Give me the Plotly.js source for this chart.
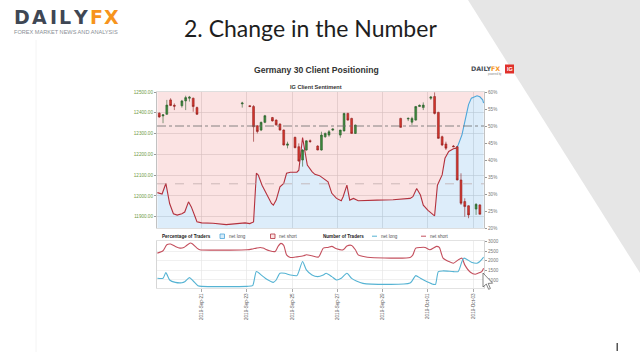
<!DOCTYPE html>
<html><head><meta charset="utf-8">
<script src="https://cdn.plot.ly/plotly-3.0.1.min.js"></script>
<style>html,body{margin:0;padding:0;background:#fff;}#chart{width:640px;height:360px;}</style>
</head><body><div id="chart"></div>
<script>
// ---- Candles (Germany 30, 4h) ----
const candleTime = ['2019-09-19 03:00','2019-09-19 07:00','2019-09-19 11:00','2019-09-19 15:00','2019-09-19 19:00','2019-09-20 03:00','2019-09-20 07:00','2019-09-20 11:00','2019-09-20 15:00','2019-09-20 19:00',
'2019-09-22 19:00','2019-09-23 03:00','2019-09-23 07:00','2019-09-23 11:00','2019-09-23 15:00','2019-09-23 19:00','2019-09-24 03:00','2019-09-24 07:00','2019-09-24 11:00','2019-09-24 15:00','2019-09-24 19:00','2019-09-25 03:00','2019-09-25 07:00','2019-09-25 11:00','2019-09-25 15:00','2019-09-25 19:00','2019-09-26 03:00','2019-09-26 07:00','2019-09-26 11:00','2019-09-26 15:00','2019-09-26 19:00','2019-09-27 03:00','2019-09-27 07:00','2019-09-27 11:00','2019-09-27 15:00','2019-09-27 19:00',
'2019-09-29 19:00','2019-09-30 03:00','2019-09-30 07:00','2019-09-30 11:00','2019-09-30 15:00','2019-09-30 19:00','2019-10-01 03:00','2019-10-01 07:00','2019-10-01 11:00','2019-10-01 15:00','2019-10-01 19:00','2019-10-02 03:00','2019-10-02 07:00','2019-10-02 11:00','2019-10-02 15:00','2019-10-02 19:00','2019-10-03 03:00','2019-10-03 07:00'];
const candleOpen  = [12398,12385,12393,12462,12436,12434,12457,12470,12470,12425, 12443,12434,12430,12338,12317,12354,12377,12365,12346,12317,12244,12282,12237,12173,12221,12266,12240,12221,12285,12293,12317,12293,12313,12397,12373,12301, 12373,12370,12355,12365,12430,12425,12470,12478,12402,12285,12250,12240,12237,12077,11973,11953,11937,11957];
const candleHigh  = [12402,12393,12462,12470,12445,12462,12482,12481,12473,12430, 12453,12437,12437,12340,12358,12390,12380,12368,12349,12320,12261,12285,12253,12225,12268,12272,12244,12309,12305,12317,12325,12318,12400,12400,12376,12343, 12376,12378,12381,12433,12440,12450,12480,12498,12405,12290,12261,12245,12240,12109,11989,11955,11965,11960];
const candleLow   = [12376,12350,12390,12432,12413,12425,12413,12454,12405,12390, 12425,12428,12261,12301,12312,12350,12358,12338,12315,12243,12229,12230,12165,12141,12218,12255,12220,12218,12280,12285,12312,12280,12310,12362,12300,12298, 12328,12360,12342,12362,12428,12413,12462,12392,12275,12240,12221,12235,12075,11957,11900,11893,11909,11912];
const candleClose = [12380,12390,12437,12435,12432,12457,12473,12475,12430,12393, 12447,12430,12333,12310,12354,12386,12361,12342,12317,12245,12250,12232,12168,12221,12265,12262,12221,12293,12301,12309,12322,12317,12397,12365,12301,12341, 12330,12373,12373,12430,12436,12437,12476,12397,12277,12245,12230,12237,12077,11965,11949,11909,11960,11912];

// ---- IG client sentiment: % net long (red while bias short, blue at the end) ----
const sentTimeRed = ['2019-09-19 01:00','2019-09-19 06:00','2019-09-19 10:00','2019-09-19 14:00','2019-09-19 18:00','2019-09-19 22:00','2019-09-20 03:00','2019-09-20 06:00','2019-09-20 10:00','2019-09-20 13:00','2019-09-20 17:00','2019-09-20 19:00','2019-09-21 00:00','2019-09-21 12:00','2019-09-22 02:00','2019-09-22 22:00','2019-09-23 03:00','2019-09-23 07:00','2019-09-23 10:00','2019-09-23 12:00','2019-09-23 16:00','2019-09-23 21:00','2019-09-24 02:00','2019-09-24 04:00','2019-09-24 07:00','2019-09-24 11:00','2019-09-24 15:00','2019-09-24 18:00','2019-09-24 22:00','2019-09-25 05:00','2019-09-25 07:00','2019-09-25 11:00','2019-09-25 16:00','2019-09-25 21:00','2019-09-26 00:00','2019-09-26 05:00','2019-09-26 11:00','2019-09-26 14:00','2019-09-26 18:00','2019-09-26 23:00','2019-09-27 04:00','2019-09-27 06:00','2019-09-27 10:00','2019-09-27 13:00','2019-09-27 17:00','2019-09-27 22:00','2019-09-28 18:00','2019-09-29 11:00','2019-09-30 05:00','2019-09-30 08:00','2019-09-30 12:00','2019-09-30 16:00','2019-09-30 19:00','2019-10-01 00:00','2019-10-01 06:00','2019-10-01 07:00','2019-10-01 10:00','2019-10-01 13:00','2019-10-01 15:00','2019-10-01 18:00','2019-10-01 22:00','2019-10-02 03:00','2019-10-02 06:00'];
const sentPctRed = [30.4,30.0,33.1,27.2,24.2,23.8,24.2,24.7,27.7,26.2,23.3,21.8,21.5,21.4,21.0,21.5,21.3,21.8,36.1,35.6,32.6,29.7,27.2,26.7,28.2,32.1,33.1,36.1,36.4,36.4,37.0,46.6,38.5,36.6,35.8,35.4,34.1,33.6,30.2,28.7,28.0,29.2,32.6,28.2,28.7,28.0,28.2,28.3,28.7,29.2,31.6,29.7,26.7,25.2,23.8,23.6,32.6,34.6,35.6,40.5,42.5,43.3,43.5];
const sentTimeBlue = ['2019-10-02 06:00','2019-10-02 08:00','2019-10-02 12:00','2019-10-02 15:00','2019-10-02 19:00','2019-10-02 22:00','2019-10-03 04:00','2019-10-03 07:00','2019-10-03 10:00','2019-10-03 11:00'];
const sentPctBlue = [43.5,44.4,47.4,51.3,56.3,58.2,58.9,58.6,57.7,56.7];

// ---- Number of traders ----
const shortTime = ['2019-09-19 01:00','2019-09-19 07:00','2019-09-19 11:00','2019-09-19 15:00','2019-09-19 20:00','2019-09-20 01:00','2019-09-20 05:00','2019-09-20 08:00','2019-09-20 12:00','2019-09-20 14:00','2019-09-20 19:00','2019-09-20 22:00','2019-09-21 16:00','2019-09-22 06:00','2019-09-23 00:00','2019-09-23 05:00','2019-09-23 10:00','2019-09-23 14:00','2019-09-23 17:00','2019-09-24 00:00','2019-09-24 06:00','2019-09-24 09:00','2019-09-24 12:00','2019-09-24 15:00','2019-09-24 18:00','2019-09-24 22:00','2019-09-25 05:00','2019-09-25 12:00','2019-09-25 15:00','2019-09-25 21:00','2019-09-26 04:00','2019-09-26 09:00','2019-09-26 14:00','2019-09-26 18:00','2019-09-26 23:00','2019-09-27 06:00','2019-09-27 10:00','2019-09-27 15:00','2019-09-27 19:00','2019-09-27 22:00','2019-09-28 05:00','2019-09-28 11:00','2019-09-30 05:00','2019-09-30 08:00','2019-09-30 11:00','2019-09-30 16:00','2019-09-30 21:00','2019-10-01 02:00','2019-10-01 09:00','2019-10-01 12:00','2019-10-01 16:00','2019-10-01 22:00','2019-10-02 03:00','2019-10-02 08:00','2019-10-02 12:00','2019-10-02 15:00','2019-10-02 21:00','2019-10-03 02:00','2019-10-03 05:00','2019-10-03 09:00','2019-10-03 11:00'];
const shortCount = [2391,2513,2826,2861,2739,2652,2687,2791,2913,2878,2652,2565,2548,2548,2565,2600,2652,2687,2652,2513,2478,2739,2896,2791,2304,2165,2200,2252,2304,2252,2190,2652,2687,2739,2617,2565,2757,2791,2565,2304,2200,2165,2165,2304,2652,2687,2687,2565,2739,2687,2130,1957,1870,2043,2130,1783,1400,1296,1348,1435,1609];
const longTime = ['2019-09-19 01:00','2019-09-19 07:00','2019-09-19 10:00','2019-09-19 14:00','2019-09-19 20:00','2019-09-20 03:00','2019-09-20 06:00','2019-09-20 11:00','2019-09-20 15:00','2019-09-20 20:00','2019-09-21 00:00','2019-09-23 00:00','2019-09-23 06:00','2019-09-23 10:00','2019-09-23 16:00','2019-09-23 21:00','2019-09-24 04:00','2019-09-24 07:00','2019-09-24 11:00','2019-09-24 16:00','2019-09-24 22:00','2019-09-25 05:00','2019-09-25 07:00','2019-09-25 11:00','2019-09-25 15:00','2019-09-25 21:00','2019-09-26 03:00','2019-09-26 09:00','2019-09-26 12:00','2019-09-26 18:00','2019-09-26 23:00','2019-09-27 04:00','2019-09-27 10:00','2019-09-27 15:00','2019-09-27 20:00','2019-09-28 03:00','2019-09-30 05:00','2019-09-30 11:00','2019-09-30 16:00','2019-09-30 23:00','2019-10-01 06:00','2019-10-01 08:00','2019-10-01 11:00','2019-10-01 16:00','2019-10-02 03:00','2019-10-02 08:00','2019-10-02 12:00','2019-10-02 14:00','2019-10-02 17:00','2019-10-02 22:00','2019-10-03 04:00','2019-10-03 07:00','2019-10-03 11:00'];
const longCount = [1087,1087,1383,1000,878,861,913,1122,948,704,670,670,704,1435,1226,1035,878,1000,1348,1348,1261,1226,1435,1957,1522,1261,1174,1261,1348,1174,1000,1087,1348,1087,948,826,843,1226,1087,913,774,774,1435,1470,1435,1435,1957,2130,2078,1922,1870,1957,2183];

// ---- Axis ticks ----
const priceTicks = [11900,12000,12100,12200,12300,12400,12500];
const pctTicks = [20,25,30,35,40,45,50,55,60];
const pctLabels = ['20%','25%','30%','35%','40%','45%','50%','55%','60%'];
const countTicks = [1000,1500,2000,2500,3000];
const logoLetters = ['D','A','I','L','Y','F','X'];

// ---- layout helpers ----
const W = 640, H = 360;
const px = x => x / W, py = y => 1 - y / H;
const xDom = [px(157), px(484)];
const xRange = ['2019-09-19 00:36', '2019-10-03 11:24'];
const FONT = 'Liberation Sans, Arial, sans-serif';
const TWO_DAYS = 172800000;

const sentTimeAll = sentTimeRed.concat(sentTimeBlue.slice(1));
const sentPctAll = sentPctRed.concat(sentPctBlue.slice(1));

const traces = [
  {type:'scatter', x:sentTimeAll, y:sentPctAll, xaxis:'x', yaxis:'y', mode:'lines', line:{width:0},
   fill:'tozeroy', fillcolor:'rgba(123,187,235,0.26)', hoverinfo:'skip', showlegend:false},
  {type:'scatter', x:sentTimeAll, y:sentTimeAll.map(() => 60), xaxis:'x', yaxis:'y', mode:'lines', line:{width:0},
   fill:'tonexty', fillcolor:'rgba(239,139,139,0.24)', hoverinfo:'skip', showlegend:false},
  {type:'scatter', x:sentTimeRed, y:sentPctRed, xaxis:'x', yaxis:'y', mode:'lines',
   line:{color:'#b3313d', width:1.1}, showlegend:false},
  {type:'scatter', x:sentTimeBlue, y:sentPctBlue, xaxis:'x', yaxis:'y', mode:'lines',
   line:{color:'#4ea6d9', width:1.1}, showlegend:false},
  {type:'candlestick', x:candleTime, open:candleOpen, high:candleHigh, low:candleLow, close:candleClose,
   xaxis:'x', yaxis:'y2', showlegend:false,
   increasing:{line:{color:'#2b5e2b', width:0.6}, fillcolor:'#3c8a3c'},
   decreasing:{line:{color:'#8e1f1f', width:0.6}, fillcolor:'#d8362c'}},
  {type:'scatter', x:shortTime, y:shortCount, xaxis:'x2', yaxis:'y3', mode:'lines',
   line:{color:'#c4505e', width:1.1, shape:'spline', smoothing:0.6}, showlegend:false},
  {type:'scatter', x:longTime, y:longCount, xaxis:'x2', yaxis:'y3', mode:'lines',
   line:{color:'#55b3d3', width:1.1, shape:'spline', smoothing:0.6}, showlegend:false}
];

const tickF = c => ({family:FONT, size:4.6, color:c});

const shapes = [
  // slide background decoration
  {type:'path', xref:'paper', yref:'paper', layer:'below',
   path:`M ${px(468)},${py(0)} L ${px(640)},${py(0)} L ${px(640)},${py(273)} Z`,
   fillcolor:'#e6e6e6', line:{width:0}},
  {type:'line', xref:'paper', yref:'paper', layer:'below', x0:px(36), x1:px(36), y0:py(40), y1:py(352),
   line:{color:'#f4f4f4', width:1}},
  {type:'rect', xref:'paper', yref:'paper', layer:'below', x0:px(616.5), x1:px(618), y0:py(343), y1:py(351),
   fillcolor:'#555', line:{width:0}},
  // reference lines in sentiment panel
  {type:'line', xref:'paper', yref:'y', x0:xDom[0], x1:xDom[1], y0:50, y1:50,
   line:{color:'#6a6a6a', width:0.8, dash:'dashdot'}},
  {type:'line', xref:'paper', yref:'y', x0:xDom[0], x1:xDom[1], y0:33, y1:33,
   line:{color:'#b9a3a3', width:0.7, dash:'dash'}},
  // legend markers
  {type:'rect', xref:'paper', yref:'paper', x0:px(220), x1:px(224.5), y0:py(238.5), y1:py(234),
   fillcolor:'#d6ebf8', line:{color:'#4ea6d9', width:0.8}},
  {type:'rect', xref:'paper', yref:'paper', x0:px(270.5), x1:px(275), y0:py(238.5), y1:py(234),
   fillcolor:'#fbe3e3', line:{color:'#b3313d', width:0.8}},
  {type:'line', xref:'paper', yref:'paper', x0:px(372), x1:px(377), y0:py(236.2), y1:py(236.2),
   line:{color:'#55b3d3', width:1}},
  {type:'line', xref:'paper', yref:'paper', x0:px(421), x1:px(426), y0:py(236.2), y1:py(236.2),
   line:{color:'#c4505e', width:1}},
  // chart logo IG box
  {type:'rect', xref:'paper', yref:'paper', x0:px(505), x1:px(514), y0:py(73.5), y1:py(64.5),
   fillcolor:'#e0312b', line:{width:0}},
  // mouse cursor
  {type:'path', xref:'paper', yref:'paper',
   path:`M ${px(483)},${py(273)} L ${px(483)},${py(287)} L ${px(486.3)},${py(284)} L ${px(488.6)},${py(289.3)} L ${px(490.4)},${py(288.5)} L ${px(488.2)},${py(283.4)} L ${px(492.6)},${py(283.2)} Z`,
   fillcolor:'#ffffff', line:{color:'#333', width:0.6}}
];

const ann = (x, y, text, size, color, opts = {}) => Object.assign({
  xref:'paper', yref:'paper', x:px(x), y:py(y), text, showarrow:false,
  xanchor:'center', yanchor:'middle', font:{family:FONT, size, color}
}, opts);

// slide logo letters, spaced like the original wordmark
const logoX = [21.5, 39, 53, 65, 80.5, 96, 111];
const logoAnns = logoLetters.map((ch, i) => ann(logoX[i], 17, '<b>' + ch + '</b>', 19,
  i >= 5 ? '#f7941d' : '#3f4754', {font:{family:'DejaVu Sans, sans-serif', size:19, color: i >= 5 ? '#f7941d' : '#3f4754'}}));

const annotations = logoAnns.concat([
  ann(310, 28, '2. Change in the Number', 23, '#1e1e1e', {font:{family:'Lato, Open Sans, sans-serif', size:23, color:'#1e1e1e'}}),
  ann(66, 31.5, 'FOREX MARKET NEWS AND ANALYSIS', 5.6, '#8a8f96'),
  ann(316, 70, '<b>Germany 30 Client Positioning</b>', 8.6, '#333333'),
  ann(316, 87.3, '<b>IG Client Sentiment</b>', 5.6, '#333333'),
  ann(485, 68.5, '<b>DAILY</b><b><span style="color:#f7941d">FX</span></b>', 6.3, '#4a4f58', {font:{family:'DejaVu Sans, sans-serif', size:6.3, color:'#4a4f58'}}),
  ann(495, 73.6, 'powered by', 2.6, '#888'),
  ann(509.5, 69, '<b>IG</b>', 5.5, '#ffffff'),
  ann(160, 236.3, '<b>Percentage of Traders</b>', 4.6, '#222', {xanchor:'left'}),
  ann(226.5, 236.3, 'net long', 4.6, '#555', {xanchor:'left'}),
  ann(277, 236.3, 'net short', 4.6, '#555', {xanchor:'left'}),
  ann(321, 236.3, '<b>Number of Traders</b>', 4.6, '#222', {xanchor:'left'}),
  ann(378.5, 236.3, 'net long', 4.6, '#555', {xanchor:'left'}),
  ann(427.5, 236.3, 'net short', 4.6, '#555', {xanchor:'left'})
]);

const layout = {
  width:W, height:H, margin:{l:0, r:0, t:0, b:0}, paper_bgcolor:'#ffffff', plot_bgcolor:'rgba(0,0,0,0)',
  showlegend:false, font:{family:FONT},
  xaxis:{domain:xDom, anchor:'y', type:'date', range:xRange, showticklabels:false, ticks:'',
    tick0:'2019-09-21', dtick:TWO_DAYS, showgrid:true, gridcolor:'#cfcfcf', gridwidth:0.6,
    showline:true, linecolor:'#c8c8c8', linewidth:0.6, mirror:true, zeroline:false, rangeslider:{visible:false}},
  yaxis:{domain:[py(228), py(92)], anchor:'x', side:'right', range:[20,60], tickvals:pctTicks, ticktext:pctLabels,
    ticks:'outside', ticklen:2.5, tickcolor:'#999', tickfont:tickF('#777'), showline:true, linecolor:'#999', linewidth:0.6,
    showgrid:false, zeroline:false},
  yaxis2:{overlaying:'y', anchor:'x', side:'left', range:[11846,12500], tickvals:priceTicks, tickformat:'.2f',
    ticks:'outside', ticklen:2.5, tickcolor:'#999', tickfont:tickF('#6f9a45'), showline:true, linecolor:'#999', linewidth:0.6,
    showgrid:true, gridcolor:'#cfcfcf', gridwidth:0.6, zeroline:false},
  xaxis2:{domain:xDom, anchor:'y3', type:'date', range:xRange, tickformat:'%Y-%b-%d', tickangle:-90,
    tick0:'2019-09-21', dtick:TWO_DAYS, tickfont:tickF('#555'), ticks:'outside', ticklen:3, tickcolor:'#aaa',
    showgrid:true, gridcolor:'#e2e2e2', gridwidth:0.6, showline:true, linecolor:'#cfcfcf', linewidth:0.6, mirror:true, zeroline:false},
  yaxis3:{domain:[py(288), py(241)], anchor:'x2', side:'right', range:[585,3020], tickvals:countTicks,
    ticks:'outside', ticklen:2.5, tickcolor:'#999', tickfont:tickF('#777'), showline:true, linecolor:'#bbb', linewidth:0.6, mirror:true,
    showgrid:true, gridcolor:'#e6e6e6', gridwidth:0.6, zeroline:false},
  shapes, annotations
};

Plotly.newPlot('chart', traces, layout, {staticPlot:true, displayModeBar:false});
</script></body></html>
